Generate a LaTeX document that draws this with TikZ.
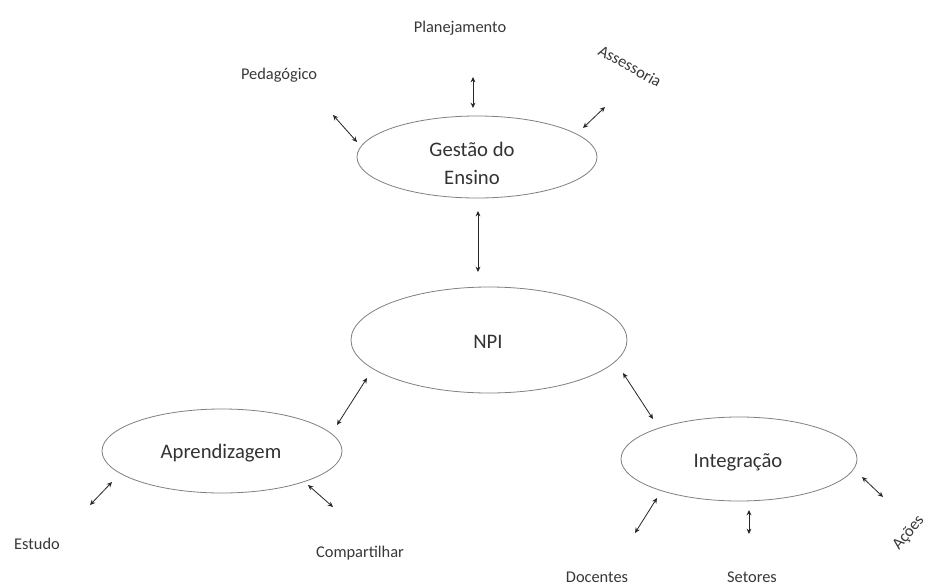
\documentclass[tikz,border=0pt]{standalone}
\usepackage{fontspec}
\setmainfont{Carlito}
\usetikzlibrary{shapes.geometric,arrows.meta}
\begin{document}
\begin{tikzpicture}[x=0.75pt,y=-0.75pt,
  ell/.style={ellipse,draw=black!50,line width=0.6pt,inner sep=0pt},
  etxt/.style={text=black!80,font=\fontsize{15.5}{21}\selectfont,align=center,inner sep=0pt},
  lbl/.style={text=black!78,font=\fontsize{12.3}{15}\selectfont,inner sep=0pt},
  link/.style={{Stealth[length=4pt,width=3.6pt]}-{Stealth[length=4pt,width=3.6pt]},line width=0.6pt,black!85}]
\clip (0,0) rectangle (930,585);
\useasboundingbox (0,0) rectangle (930,585);
\fill[white] (0,0) rectangle (930,585);

% ellipses
\node[ell,minimum width=180pt,minimum height=61.5pt] (ges) at (477,157) {};
\node[ell,minimum width=207pt,minimum height=79.5pt] (npi) at (489,340) {};
\node[ell,minimum width=180pt,minimum height=63pt] (apr) at (222,451) {};
\node[ell,minimum width=177pt,minimum height=63pt] (int) at (739,459) {};

% ellipse texts
\node[etxt] (gesT) at (472,163) {Gestão do\\Ensino};
\node[etxt] (npiT) at (488,342) {NPI};
\node[etxt] (aprT) at (221,453) {Aprendizagem};
\node[etxt] (intT) at (738,462) {Integração};

% labels
\node[lbl] (pla) at (460,28) {Planejamento};
\node[lbl] (ped) at (279,75) {Pedagógico};
\node[lbl,rotate=-29] (ass) at (630,66) {Assessoria};
\node[lbl] (est) at (37,544) {Estudo};
\node[lbl] (com) at (360,553) {Compartilhar};
\node[lbl,anchor=base] (doc) at (597,582) {Docentes};
\node[lbl,anchor=base] (set) at (752,582) {Setores};
\node[lbl,rotate=50,anchor=base west] (aco) at (899,551) {Ações};

% connector ends
\coordinate (ped1) at (333,115); \coordinate (ped2) at (357,142);
\coordinate (pla1) at (473,77);  \coordinate (pla2) at (473,108);
\coordinate (ass1) at (605,107); \coordinate (ass2) at (583,128);
\coordinate (gn1) at (478,211);  \coordinate (gn2) at (478,272);
\coordinate (na1) at (367,378);  \coordinate (na2) at (337,425);
\coordinate (ni1) at (623,373);  \coordinate (ni2) at (653,419);
\coordinate (est1) at (90,505);  \coordinate (est2) at (112,482);
\coordinate (com1) at (308,485); \coordinate (com2) at (333,507);
\coordinate (doc1) at (657,498); \coordinate (doc2) at (635,533);
\coordinate (set1) at (749,510); \coordinate (set2) at (749,534);
\coordinate (aco1) at (862,477); \coordinate (aco2) at (883,497);

\draw[link] (ped1) -- (ped2);
\draw[link] (pla1) -- (pla2);
\draw[link] (ass1) -- (ass2);
\draw[link] (gn1) -- (gn2);
\draw[link] (na1) -- (na2);
\draw[link] (ni1) -- (ni2);
\draw[link] (est1) -- (est2);
\draw[link] (com1) -- (com2);
\draw[link] (doc1) -- (doc2);
\draw[link] (set1) -- (set2);
\draw[link] (aco1) -- (aco2);
\end{tikzpicture}
\end{document}
